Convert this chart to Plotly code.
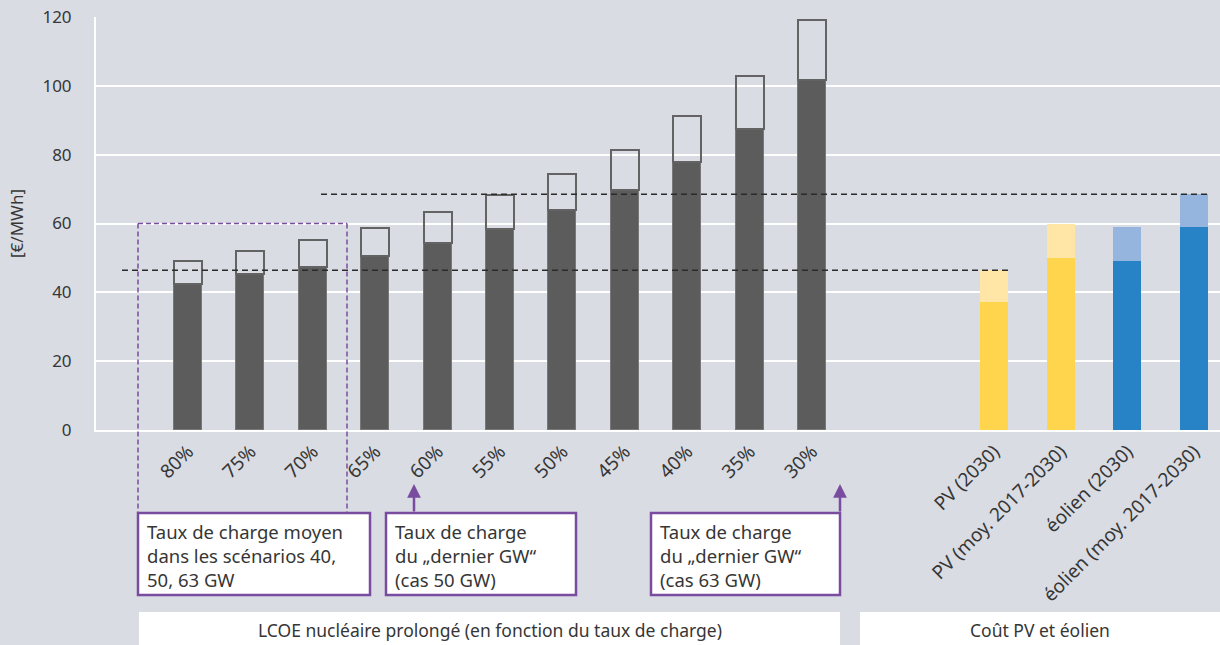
import plotly.graph_objects as go

# ---------------- data ----------------
nuc_labels = ["80%", "75%", "70%", "65%", "60%", "55%", "50%", "45%", "40%", "35%", "30%"]
nuc_base = [42.3, 45.3, 47.4, 50.7, 54.4, 58.5, 63.8, 69.6, 77.8, 87.6, 101.6]
nuc_total = [49.1, 51.9, 55.1, 58.7, 63.3, 68.4, 74.3, 81.5, 91.1, 103.0, 119.2]

ren_labels = ["PV (2030)", "PV (moy. 2017-2030)", "éolien (2030)", "éolien (moy. 2017-2030)"]
ren_base = [37.1, 49.9, 49.1, 58.9]
ren_total = [46.4, 59.8, 58.9, 68.5]

y_ticks = [0, 20, 40, 60, 80, 100, 120]
y_title = "[€/MWh]"

box_texts = [
    "Taux de charge moyen<br>dans les scénarios 40,<br>50, 63 GW",
    "Taux de charge<br>du „dernier GW“<br>(cas 50 GW)",
    "Taux de charge<br>du „dernier GW“<br>(cas 63 GW)",
]
group_texts = ["LCOE nucléaire prolongé (en fonction du taux de charge)", "Coût PV et éolien"]

# ---------------- styles / layout geometry ----------------
W, H = 1220, 645
L, R, T, B = 96, 0, 17, 215
PW, PH = W - L - R, H - T - B
Y0PX = H - B
YMAX = 120

def px(x):
    return (x - L) / PW

def py(y):
    return (Y0PX - y) / PH

BG = "#d9dce3"
DARK = "#5b5c5b"
OUTLINE = "#626362"
PURPLE = "#7a4c9f"
TXT = "#363636"
FONT = "Noto Sans"
ren_col = ["#ffd54d", "#ffd54d", "#2782c6", "#2782c6"]
ren_col_light = ["#ffe6a6", "#ffe6a6", "#95b4de", "#95b4de"]

split = px(880)

fig = go.Figure()
fig.add_trace(go.Bar(x=nuc_labels, y=nuc_base, xaxis="x", yaxis="y", width=0.45,
                     marker=dict(color=DARK, line=dict(color="#777877", width=1)),
                     showlegend=False, hoverinfo="x+y"))
fig.add_trace(go.Bar(x=nuc_labels, y=[t - b for t, b in zip(nuc_total, nuc_base)],
                     xaxis="x", yaxis="y", width=0.45,
                     marker=dict(color="rgba(0,0,0,0)", line=dict(color=OUTLINE, width=2.4)),
                     showlegend=False, hoverinfo="x+y"))
fig.add_trace(go.Bar(x=ren_labels, y=ren_base, xaxis="x2", yaxis="y", width=0.42,
                     marker=dict(color=ren_col, line=dict(width=0)),
                     showlegend=False, hoverinfo="x+y"))
fig.add_trace(go.Bar(x=ren_labels, y=[t - b for t, b in zip(ren_total, ren_base)],
                     xaxis="x2", yaxis="y", width=0.42,
                     marker=dict(color=ren_col_light, line=dict(width=0)),
                     showlegend=False, hoverinfo="x+y"))

xcommon = dict(type="category", tickangle=-45, showline=True, linecolor="white", linewidth=2,
               showgrid=False, zeroline=False, ticks="", tickfont=dict(family=FONT, size=19, color=TXT),
               anchor="y", automargin=False, fixedrange=True, ticklabelstandoff=1)

shapes = []
# dashed reference lines
dl = dict(color="#2b2b2b", width=1.5, dash="6px,4px")
shapes.append(dict(type="line", xref="paper", yref="y", x0=px(122), x1=px(1008),
                   y0=ren_total[0], y1=ren_total[0], line=dl))
shapes.append(dict(type="line", xref="paper", yref="y", x0=px(321), x1=px(1208),
                   y0=ren_total[3], y1=ren_total[3], line=dl))
# purple dashed frame
BOX_TOP = 60
pd = dict(color=PURPLE, width=1.5, dash="5px,3px")
shapes.append(dict(type="line", xref="paper", yref="paper", x0=px(138), x1=px(347),
                   y0=BOX_TOP / YMAX, y1=BOX_TOP / YMAX, line=pd))
shapes.append(dict(type="line", xref="paper", yref="paper", x0=px(138), x1=px(138),
                   y0=BOX_TOP / YMAX, y1=py(513), line=pd))
shapes.append(dict(type="line", xref="paper", yref="paper", x0=px(347), x1=px(347),
                   y0=BOX_TOP / YMAX, y1=py(513), line=pd))
# annotation boxes
boxes_px = [(138, 370), (386, 576), (651, 840)]
for x0, x1 in boxes_px:
    shapes.append(dict(type="rect", xref="paper", yref="paper", x0=px(x0), x1=px(x1),
                       y0=py(513), y1=py(595), fillcolor="white",
                       line=dict(color=PURPLE, width=2.5), layer="above"))
# bottom group bands
bands_px = [(139, 840), (860, 1220)]
for x0, x1 in bands_px:
    shapes.append(dict(type="rect", xref="paper", yref="paper", x0=px(x0), x1=px(x1),
                       y0=py(612), y1=py(650), fillcolor="white", line=dict(width=0), layer="above"))

annotations = []
for (x0, x1), txt in zip(boxes_px, box_texts):
    annotations.append(dict(text=txt, xref="paper", yref="paper", x=px(x0 + 7), y=py(555),
                            xanchor="left", yanchor="middle", align="left", showarrow=False,
                            font=dict(family=FONT, size=18.5, color=TXT)))
for (x0, x1), txt in zip(bands_px, group_texts):
    annotations.append(dict(text=txt, xref="paper", yref="paper", x=px((x0 + x1) / 2), y=py(630),
                            xanchor="center", yanchor="middle", showarrow=False,
                            font=dict(family=FONT, size=17.5, color=TXT)))
# arrows
for ax_px in (414, 840):
    annotations.append(dict(text="", xref="paper", yref="paper", x=px(ax_px), y=py(484),
                            ax=0, ay=29, showarrow=True, arrowhead=2, arrowsize=1.1,
                            arrowwidth=2.5, arrowcolor=PURPLE, standoff=0, startstandoff=0))

fig.update_layout(
    width=W, height=H,
    margin=dict(l=L, r=R, t=T, b=B, pad=0),
    paper_bgcolor=BG, plot_bgcolor=BG,
    barmode="stack", bargap=0,
    font=dict(family=FONT, color=TXT),
    showlegend=False,
    xaxis=dict(domain=[0, split], range=[-1.474, 11.09], **xcommon),
    xaxis2=dict(domain=[split, 1], range=[-1.709, 3.388], **xcommon),
    yaxis=dict(range=[0, YMAX], tickvals=y_ticks, showgrid=True, gridcolor="white", gridwidth=2,
               showline=True, linecolor="white", linewidth=2, zeroline=False, ticks="",
               tickfont=dict(family=FONT, size=17, color=TXT), ticklabelstandoff=19,
               title=dict(text=y_title, font=dict(family=FONT, size=17, color=TXT), standoff=14),
               automargin=False, fixedrange=True),
    shapes=shapes,
    annotations=annotations,
)

fig.write_html("out.html",
               config={"displayModeBar": False},
               post_script="document.body.style.margin='0';document.body.style.padding='0';"
                           "document.documentElement.style.overflow='hidden';")
